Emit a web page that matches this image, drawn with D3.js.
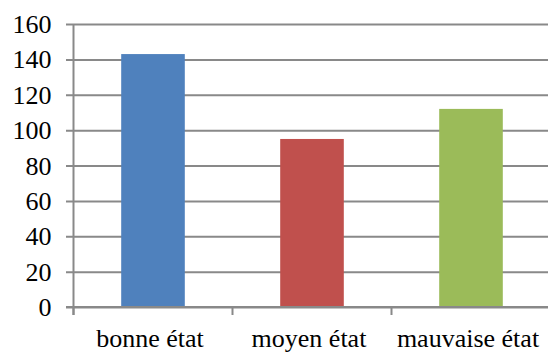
<!DOCTYPE html>
<html><head><meta charset="utf-8">
<script src="https://cdn.jsdelivr.net/npm/d3@7"></script>
<style>html,body{margin:0;padding:0;background:#fff;}svg{display:block;}</style>
</head><body>
<svg id="c" width="548" height="353"></svg>
<script>
const categories = ["bonne état", "moyen état", "mauvaise état"];
const values = [143, 95, 112];
const colors = ["#4F81BD", "#C0504D", "#9BBB59"];
const yTicks = [0, 20, 40, 60, 80, 100, 120, 140, 160];

(function () {
const svg = d3.select("#c");
const mLeft = 73.5, mRight = 550.5, mTop = 24, mBottom = 307;
const font = 'Liberation Serif, "DejaVu Serif", serif';

const x = d3.scaleBand().domain(categories).range([mLeft, mRight]).paddingInner(0.6).paddingOuter(0.3);
const xSlot = d3.scaleBand().domain(categories).range([mLeft, mRight]).padding(0);
const y = d3.scaleLinear().domain([0, 160]).range([mBottom, mTop]);

const gridColor = "#898989";

const yAxis = d3.axisLeft(y).tickValues(yTicks).tickSize(-(548 - mLeft)).tickSizeOuter(0).tickPadding(0);
const gy = svg.append("g").attr("transform", `translate(${mLeft},0)`).call(yAxis);
gy.attr("font-family", null).attr("font-size", null);
gy.select(".domain").remove();
gy.selectAll(".tick line").attr("stroke", gridColor).attr("stroke-width", 2).attr("x1", -7.5);
gy.selectAll(".tick text").attr("x", -22).attr("dy", "0.33em")
  .style("font-family", font).style("font-size", "26px").attr("fill", "#000");

svg.append("g").selectAll("rect").data(values).join("rect")
  .attr("x", (d, i) => x(categories[i]))
  .attr("width", x.bandwidth())
  .attr("y", d => y(d))
  .attr("height", d => y(0) - y(d))
  .attr("fill", (d, i) => colors[i]);

svg.append("line").attr("x1", mLeft).attr("x2", mLeft).attr("y1", mTop).attr("y2", mBottom + 8)
  .attr("stroke", gridColor).attr("stroke-width", 2);

const boundaries = categories.map(c => xSlot(c)).concat([mRight]);
svg.append("line").attr("x1", mLeft - 7.5).attr("x2", 548).attr("y1", y(0)).attr("y2", y(0))
  .attr("stroke", gridColor).attr("stroke-width", 2);
svg.append("g").selectAll("line").data(boundaries).join("line")
  .attr("x1", d => d).attr("x2", d => d).attr("y1", y(0)).attr("y2", y(0) + 8)
  .attr("stroke", gridColor).attr("stroke-width", 2);

svg.append("g").selectAll("text").data(categories).join("text")
  .attr("x", d => xSlot(d) + xSlot.bandwidth() / 2 - 3)
  .attr("y", 346.5)
  .attr("text-anchor", "middle")
  .style("font-family", font).style("font-size", "26px").attr("fill", "#000")
  .text(d => d);
})();
</script>
</body></html>
